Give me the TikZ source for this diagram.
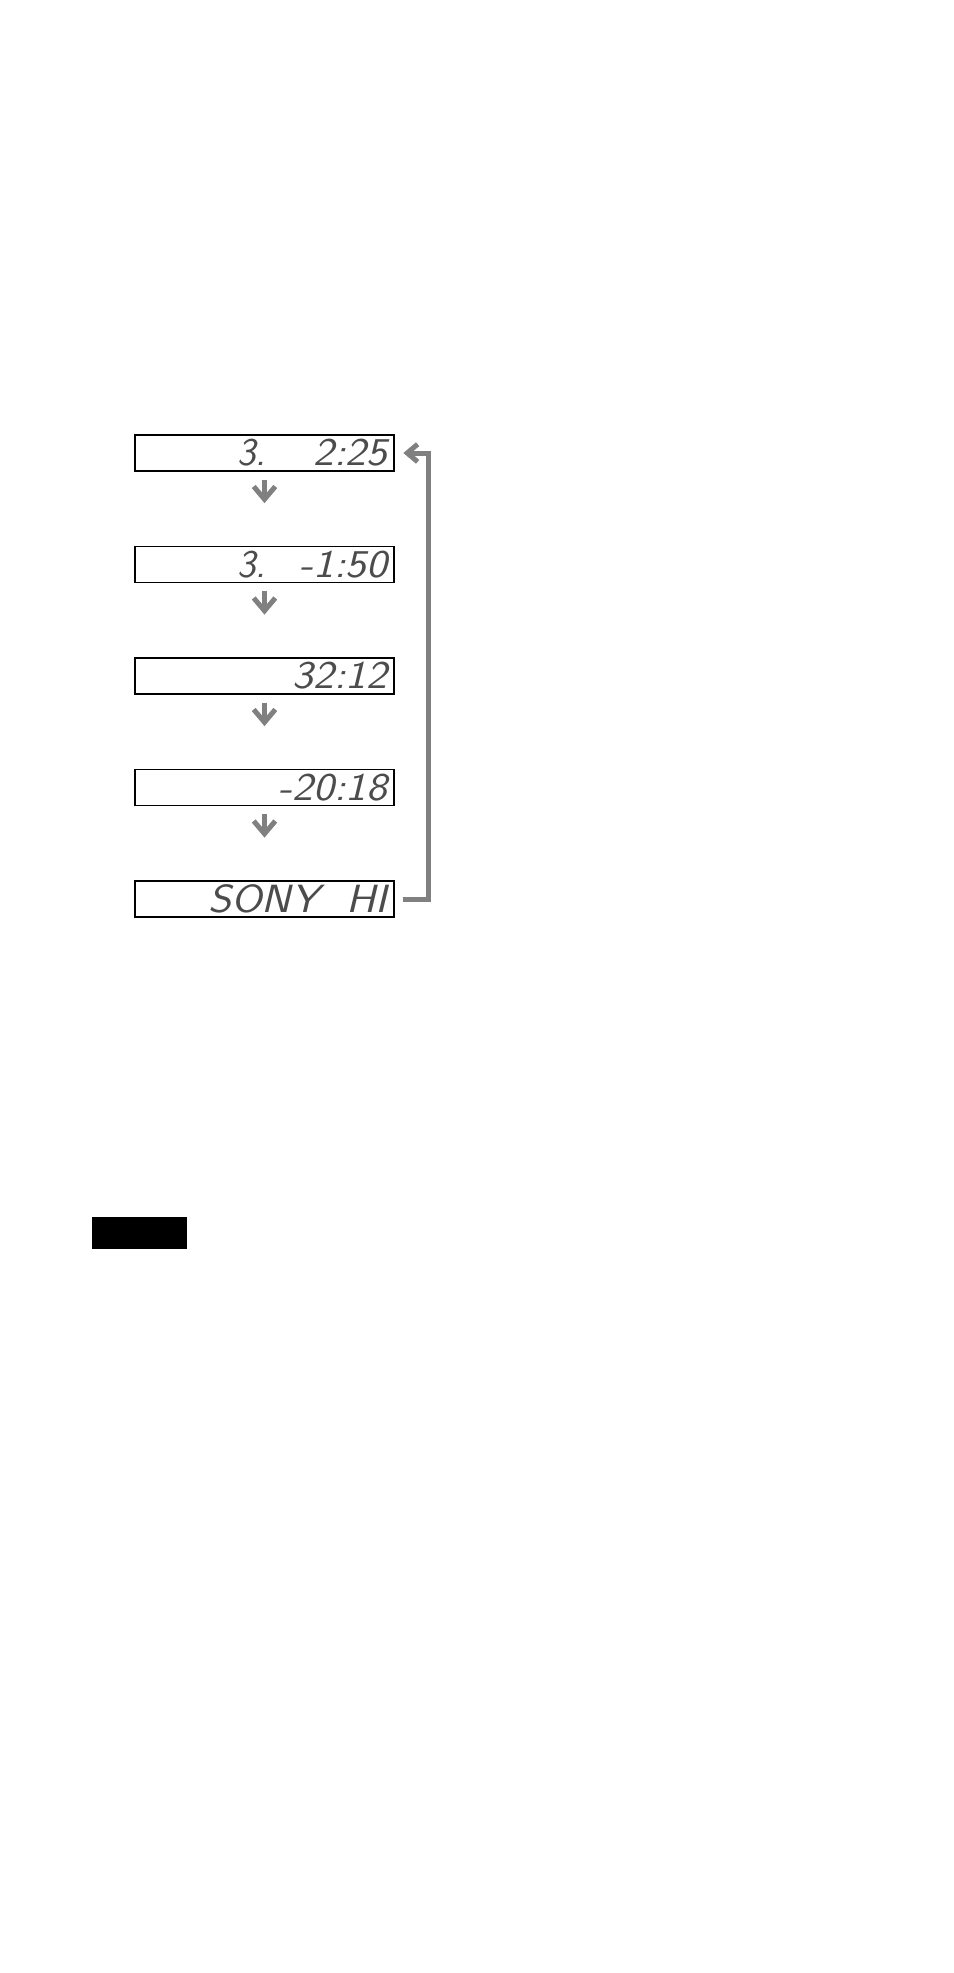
\documentclass[tikz,border=0pt]{standalone}
\usepackage{tikz}
\usetikzlibrary{arrows.meta}

\newcommand{\lcdfont}{\fontfamily{lmss}\fontshape{sl}\fontsize{28}{28}\selectfont}
\newcommand{\lcd}[2]{\makebox[61.25mm][l]{\rlap{\hspace{23.75mm}#1}\hfill\scalebox{1.12}[1]{#2}}}

\begin{document}
\begin{tikzpicture}[node distance={27.875mm},
    display/.style = {draw, line width=0.8pt, inner xsep=1.75mm, inner ysep=0pt, minimum height=9mm, font=\lcdfont, text=black!70},
    nextarrow/.style = {draw=gray, line width=1.25mm, -{Straight Barb[length=3.2mm,width=5.4mm]}, shorten <=2mm, shorten >=10.7mm},
    backarrow/.style = {draw=gray, line width=1.25mm, -{Straight Barb[length=2.6mm,width=4.4mm]}, shorten <=2mm, shorten >=2.2mm}]
    \useasboundingbox (0,0) rectangle (238.5mm,-493.25mm);
    \node[display] (d1) at (66.125mm,-113.25mm) {\lcd{3.}{2:25}};
    \node[display] (d2) [below of=d1] {\lcd{3.}{-1:50}};
    \node[display] (d3) [below of=d2] {\lcd{}{32:12}};
    \node[display] (d4) [below of=d3] {\lcd{}{-20:18}};
    \node[display] (d5) [below of=d4] {\lcd{}{SONY~~HI}};
    \draw[nextarrow] (d1) -- (d2);
    \draw[nextarrow] (d2) -- (d3);
    \draw[nextarrow] (d3) -- (d4);
    \draw[nextarrow] (d4) -- (d5);
    \draw[backarrow] (d5.east) -- ++(8.5mm,0) |- (d1.east);
    \node[fill=black, inner sep=0pt, minimum width=23.75mm, minimum height=8mm] (notebar) at (34.875mm,-308.25mm) {};
\end{tikzpicture}
\end{document}
